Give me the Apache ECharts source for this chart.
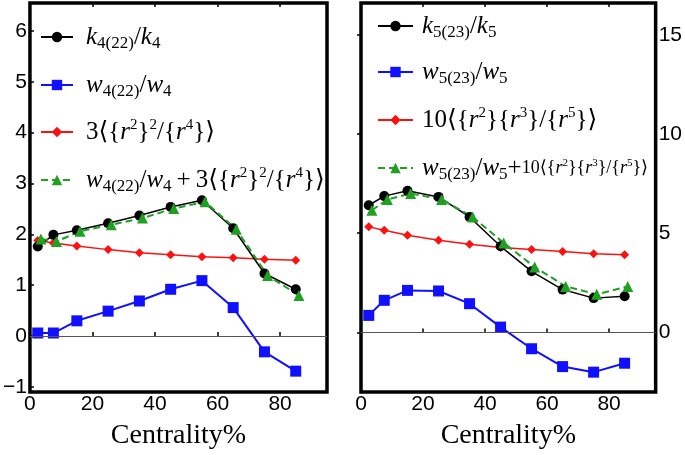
<!DOCTYPE html>
<html>
<head>
<meta charset="utf-8">
<script src="https://cdn.jsdelivr.net/npm/echarts@6/dist/echarts.min.js"></script>
<style>
  html, body { margin: 0; padding: 0; background: #fff; }
  #chart { width: 685px; height: 455px; }
</style>
</head>
<body>
<div id="chart"></div>
<script>
// centrality bins (green curve is drawn slightly shifted, as in the figure)
var centrality = [2.5, 7.5, 15, 25, 35, 45, 55, 65, 75, 85];
var centralityShift = [3.5, 8.5, 16, 26, 36, 46, 56, 66, 76, 86];
var xTicks = [0, 20, 40, 60, 80];

// left panel: n = 4
var k4Ratio = [1.76, 1.99, 2.08, 2.22, 2.37, 2.54, 2.67, 2.12, 1.23, 0.92];
var w4Ratio = [0.06, 0.06, 0.30, 0.49, 0.69, 0.92, 1.09, 0.56, -0.31, -0.69];
var r4Term = [1.88, 1.83, 1.77, 1.70, 1.64, 1.60, 1.56, 1.54, 1.51, 1.49];
var w4Sum = [1.91, 1.86, 2.06, 2.19, 2.32, 2.51, 2.64, 2.10, 1.19, 0.80];
var yTicksLeft = [-1, 0, 1, 2, 3, 4, 5, 6];

// right panel: n = 5
var k5Ratio = [6.41, 6.87, 7.14, 6.83, 5.82, 4.34, 3.08, 2.16, 1.73, 1.82];
var w5Ratio = [0.86, 1.62, 2.12, 2.09, 1.45, 0.27, -0.82, -1.72, -2.00, -1.55];
var r5Term = [5.32, 5.15, 4.90, 4.65, 4.44, 4.28, 4.18, 4.08, 3.97, 3.92];
var w5Sum = [6.16, 6.70, 7.00, 6.70, 5.82, 4.51, 3.30, 2.32, 1.92, 2.32];
var yTicksRight = [0, 5, 10, 15];

function pairs(xs, ys) {
    return ys.map(function (v, i) { return [xs[i], v]; });
}

var SERIF = '"Liberation Serif", "DejaVu Serif", serif';
var SANS = '"Liberation Sans", Arial, sans-serif';

var rich = {
    i: { fontFamily: SERIF, fontStyle: 'italic', fontSize: 25, lineHeight: 30, color: '#000' },
    r: { fontFamily: SERIF, fontSize: 25, lineHeight: 30, color: '#000' },
    sb: { fontFamily: SERIF, fontSize: 17, verticalAlign: 'bottom', color: '#000' },
    sp: { fontFamily: SERIF, fontSize: 15, verticalAlign: 'top', padding: [1, 0, 0, 0], color: '#000' },
    s: { fontFamily: SERIF, fontSize: 18, lineHeight: 30, color: '#000' },
    si: { fontFamily: SERIF, fontStyle: 'italic', fontSize: 18, lineHeight: 30, color: '#000' },
    ssp: { fontFamily: SERIF, fontSize: 11, verticalAlign: 'top', padding: [5, 0, 0, 0], color: '#000' }
};

var labels = {
    k4: '{i|k}{sb|4(22)}{r|/}{i|k}{sb|4}',
    w4: '{i|w}{sb|4(22)}{r|/}{i|w}{sb|4}',
    r4: '{r|3⟨{}{i|r}{sp|2}}{sp|2}{r|/{}{i|r}{sp|4}}{r|⟩}',
    s4: '{i|w}{sb|4(22)}{r|/}{i|w}{sb|4}{r|\u2009+\u20093⟨{}{i|r}{sp|2}}{sp|2}{r|/{}{i|r}{sp|4}}{r|⟩}',
    k5: '{i|k}{sb|5(23)}{r|/}{i|k}{sb|5}',
    w5: '{i|w}{sb|5(23)}{r|/}{i|w}{sb|5}',
    r5: '{r|10⟨{}{i|r}{sp|2}}{r|{}{i|r}{sp|3}}{r|/{}{i|r}{sp|5}}{r|⟩}',
    s5: '{i|w}{sb|5(23)}{r|/}{i|w}{sb|5}{r|+}{s|10⟨{}{si|r}{ssp|2}}{s|{}{si|r}{ssp|3}}{s|/{}{si|r}{ssp|5}}{s|⟩}'
};

function legendFor(name, left, top, itemWidth, padLeft, small) {
    return {
        data: [name],
        left: left,
        top: top,
        orient: 'vertical',
        itemWidth: itemWidth,
        itemHeight: 13,
        selectedMode: false,
        padding: 0,
        formatter: function (n) { return labels[n]; },
        textStyle: {
            fontFamily: SERIF,
            fontSize: small ? 18 : 25,
            lineHeight: 30,
            color: '#000',
            padding: [0, 0, 0, padLeft],
            rich: rich
        }
    };
}

function minus(v) {
    return String(v).replace('-', '\u2212');
}

function xAxisFor(gridIndex) {
    return [{
        type: 'value', gridIndex: gridIndex, min: 0, max: 95,
        name: 'Centrality%', nameLocation: 'middle', nameGap: 30,
        nameTextStyle: { fontFamily: SERIF, fontSize: 28, color: '#000' },
        axisLine: { show: false },
        axisTick: { show: true, inside: true, length: 4, customValues: xTicks, lineStyle: { color: '#000', width: 1.5 } },
        axisLabel: { customValues: xTicks, margin: 2, fontFamily: SANS, fontSize: 21, color: '#000' },
        splitLine: { show: false }
    }, {
        type: 'value', gridIndex: gridIndex, min: 0, max: 95, position: 'top',
        axisLine: { show: false },
        axisTick: { show: true, inside: true, length: 4, customValues: xTicks, lineStyle: { color: '#000', width: 1.5 } },
        axisLabel: { show: false },
        splitLine: { show: false }
    }];
}

function yAxisFor(gridIndex, min, max, ticks, pos) {
    return {
        type: 'value', gridIndex: gridIndex, min: min, max: max, position: pos,
        axisLine: { show: false },
        axisTick: { show: true, inside: true, length: 4, customValues: ticks, lineStyle: { color: '#000', width: 1.5 } },
        axisLabel: { customValues: ticks, margin: 3, fontFamily: SANS, fontSize: 21, color: '#000', formatter: minus },
        splitLine: { show: false }
    };
}

function lineSeries(name, xi, yi, xs, ys, color, symbol, size, width, dashed) {
    return {
        name: name, type: 'line', xAxisIndex: xi, yAxisIndex: yi,
        data: pairs(xs, ys),
        symbol: symbol, symbolSize: size,
        itemStyle: { color: color },
        lineStyle: { color: color, width: width, type: dashed ? [7, 4] : 'solid' },
        silent: true,
        animation: false
    };
}

var zeroLine = {
    silent: true, symbol: 'none', label: { show: false },
    lineStyle: { color: '#555', width: 1, type: 'solid' },
    data: [{ yAxis: 0 }]
};

var blue4 = lineSeries('w4', 0, 0, centrality, w4Ratio, '#1010ff', 'rect', 11, 2, false);
blue4.markLine = zeroLine;
var blue5 = lineSeries('w5', 2, 1, centrality, w5Ratio, '#1010ff', 'rect', 11, 2, false);
blue5.markLine = zeroLine;

var option = {
    backgroundColor: '#fff',
    animation: false,
    grid: [
        { left: 27, right: 358, top: 3, bottom: 62, show: true, borderWidth: 3.5, borderColor: '#000', backgroundColor: 'transparent' },
        { left: 361, right: 26, top: 3, bottom: 63, show: true, borderWidth: 3.5, borderColor: '#000', backgroundColor: 'transparent' }
    ],
    xAxis: xAxisFor(0).concat(xAxisFor(1)),
    yAxis: [
        yAxisFor(0, -1.1, 6.55, yTicksLeft, 'left'),
        yAxisFor(1, -3, 16.6, yTicksRight, 'right')
    ],
    legend: [
        legendFor('k4', 40, 22, 32, 8),
        legendFor('w4', 40, 70, 32, 8),
        legendFor('r4', 40, 117, 32, 8),
        legendFor('s4', 40, 165, 32, 8),
        legendFor('k5', 377, 11, 35, 4),
        legendFor('w5', 377, 57, 35, 4),
        legendFor('r5', 377, 105, 35, 4),
        legendFor('s5', 377, 153, 35, 4, true)
    ],
    series: [
        blue4,
        lineSeries('r4', 0, 0, centrality, r4Term, '#ff1010', 'diamond', 9, 1.5, false),
        lineSeries('k4', 0, 0, centrality, k4Ratio, '#000', 'circle', 10, 1.5, false),
        lineSeries('s4', 0, 0, centralityShift, w4Sum, '#20a020', 'triangle', 11, 2, true),
        blue5,
        lineSeries('r5', 2, 1, centrality, r5Term, '#ff1010', 'diamond', 9, 1.5, false),
        lineSeries('k5', 2, 1, centrality, k5Ratio, '#000', 'circle', 10, 1.5, false),
        lineSeries('s5', 2, 1, centralityShift, w5Sum, '#20a020', 'triangle', 11, 2, true)
    ]
};

var myChart = echarts.init(document.getElementById('chart'));
myChart.setOption(option);
</script>
</body>
</html>
